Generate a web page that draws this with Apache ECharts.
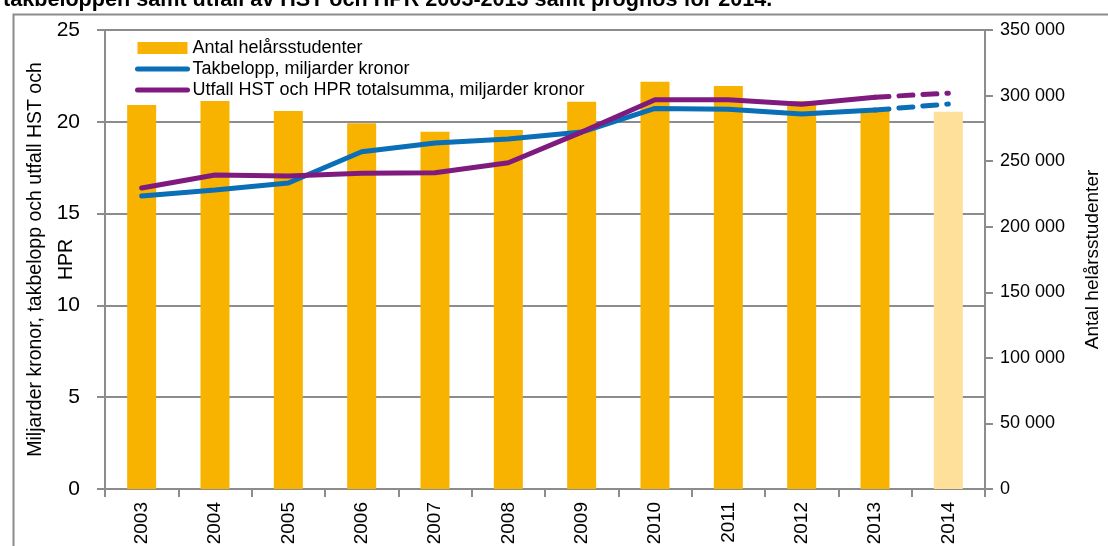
<!DOCTYPE html>
<html>
<head>
<meta charset="utf-8">
<script src="https://cdn.jsdelivr.net/npm/echarts@6/dist/echarts.min.js"></script>
<style>
    html, body { margin: 0; padding: 0; background: #fff; }
    #main { width: 1108px; height: 546px; }
</style>
</head>
<body>
<div id="main"></div>
<script>
    // data
    var years = ['2003', '2004', '2005', '2006', '2007', '2008', '2009', '2010', '2011', '2012', '2013', '2014'];
    var studenter = [292800, 295800, 288200, 278800, 272400, 273700, 295300, 310600, 307300, 295800, 288500, 287700];
    var takbelopp = [15.96, 16.29, 16.67, 18.37, 18.85, 19.06, 19.44, 20.73, 20.68, 20.42, 20.64, 20.97];
    var utfall = [16.39, 17.1, 17.05, 17.2, 17.23, 17.77, 19.44, 21.2, 21.2, 20.96, 21.34, 21.56];
    var leftTicks = [0, 5, 10, 15, 20, 25];
    var rightTicks = [0, 50000, 100000, 150000, 200000, 250000, 300000, 350000];
    var prognosIndex = 11; // 2014 is the forecast

    var blue = '#0a6fb7';
    var purple = '#7f1b7f';
    var orange = '#f8b200';
    var lightOrange = '#fee09b';
    var gray = '#8c8c8c';
    var font = 'Liberation Sans';

    function spaced(v) {
        return String(v).replace(/\B(?=(\d{3})+(?!\d))/g, ' ');
    }

    // solid part up to last outcome year, dashed part for the forecast
    function solidPart(arr) {
        return arr.map(function(v, i) { return i < prognosIndex ? v : null; });
    }
    function dashedPart(arr) {
        return arr.map(function(v, i) { return i >= prognosIndex - 1 ? v : null; });
    }

    var barData = studenter.map(function(v, i) {
        return {
            value: v,
            itemStyle: { color: i === prognosIndex ? lightOrange : orange }
        };
    });

    var myChart = echarts.init(document.getElementById('main'));

    var lineLegend = { opacity: 0 };

    var option = {
        animation: false,
        textStyle: { fontFamily: font },
        graphic: [{
            type: 'text',
            x: 3,
            y: 11,
            style: {
                text: 'takbeloppen samt utfall av HST och HPR 2003-2013 samt prognos för 2014.',
                font: 'bold 21.6px "Liberation Sans"',
                fill: '#000',
                verticalAlign: 'bottom'
            }
        }, {
            type: 'polyline',
            shape: { points: [[1108, 14.5], [13.5, 14.5], [13.5, 546]] },
            style: { stroke: gray, lineWidth: 2, fill: null }
        }],
        legend: {
            orient: 'vertical',
            left: 130,
            top: 34,
            itemWidth: 50,
            itemHeight: 12,
            itemGap: 3,
            textStyle: { fontSize: 18, color: '#000', fontFamily: font },
            data: [
                { name: 'Antal helårsstudenter', icon: 'rect' },
                { name: 'Takbelopp, miljarder kronor', itemStyle: lineLegend,
                    lineStyle: { width: 5, cap: 'round' } },
                { name: 'Utfall HST och HPR totalsumma, miljarder kronor', itemStyle: lineLegend,
                    lineStyle: { width: 5, cap: 'round' } }
            ]
        },
        grid: {
            left: 105,
            right: 123,
            top: 30,
            bottom: 57,
            outerBoundsMode: 'none'
        },
        xAxis: {
            type: 'category',
            data: years,
            axisLine: { lineStyle: { color: gray, width: 2 } },
            axisTick: { show: true, length: 8, lineStyle: { color: gray, width: 2 } },
            axisLabel: { rotate: 90, fontSize: 19, color: '#000', margin: 13 }
        },
        yAxis: [{
            type: 'value',
            min: 0,
            max: 25,
            interval: 5,
            name: 'Miljarder kronor, takbelopp och utfall HST och\nHPR',
            nameLocation: 'middle',
            nameGap: 23,
            nameRotate: 90,
            nameMoveOverlap: false,
            nameTextStyle: { fontSize: 19.5, color: '#000', lineHeight: 31 },
            axisLine: { show: true, lineStyle: { color: gray, width: 2 } },
            axisTick: { show: true, length: 8, lineStyle: { color: gray, width: 2 } },
            axisLabel: { fontSize: 21, color: '#000', margin: 25,
                customValues: leftTicks },
            splitLine: { lineStyle: { color: gray, width: 2 } }
        }, {
            type: 'value',
            min: 0,
            max: 350000,
            interval: 50000,
            position: 'right',
            name: 'Antal helårsstudenter',
            nameLocation: 'middle',
            nameGap: 98,
            nameRotate: 90,
            nameMoveOverlap: false,
            nameTextStyle: { fontSize: 19, color: '#000' },
            axisLine: { show: true, lineStyle: { color: gray, width: 2 } },
            axisTick: { show: true, length: 8, inside: false, lineStyle: { color: gray, width: 2 } },
            axisLabel: { fontSize: 18, color: '#000', margin: 15,
                formatter: function(v) { return rightTicks.indexOf(v) >= 0 ? spaced(v) : ''; } },
            splitLine: { show: false }
        }],
        series: [{
            name: 'Antal helårsstudenter',
            type: 'bar',
            yAxisIndex: 1,
            barWidth: 29,
            itemStyle: { color: orange },
            data: barData,
            z: 1
        }, {
            name: 'Takbelopp, miljarder kronor',
            type: 'line',
            yAxisIndex: 0,
            symbol: 'none',
            color: blue,
            lineStyle: { color: blue, width: 5, cap: 'round' },
            data: solidPart(takbelopp),
            z: 3
        }, {
            name: 'Takbelopp prognos',
            type: 'line',
            yAxisIndex: 0,
            symbol: 'none',
            lineStyle: { color: blue, width: 5, type: [14, 10], cap: 'round' },
            data: dashedPart(takbelopp),
            z: 3
        }, {
            name: 'Utfall HST och HPR totalsumma, miljarder kronor',
            type: 'line',
            yAxisIndex: 0,
            symbol: 'none',
            color: purple,
            lineStyle: { color: purple, width: 5, cap: 'round' },
            data: solidPart(utfall),
            z: 4
        }, {
            name: 'Utfall prognos',
            type: 'line',
            yAxisIndex: 0,
            symbol: 'none',
            lineStyle: { color: purple, width: 5, type: [14, 10], cap: 'round' },
            data: dashedPart(utfall),
            z: 4
        }]
    };

    myChart.setOption(option);
</script>
</body>
</html>
